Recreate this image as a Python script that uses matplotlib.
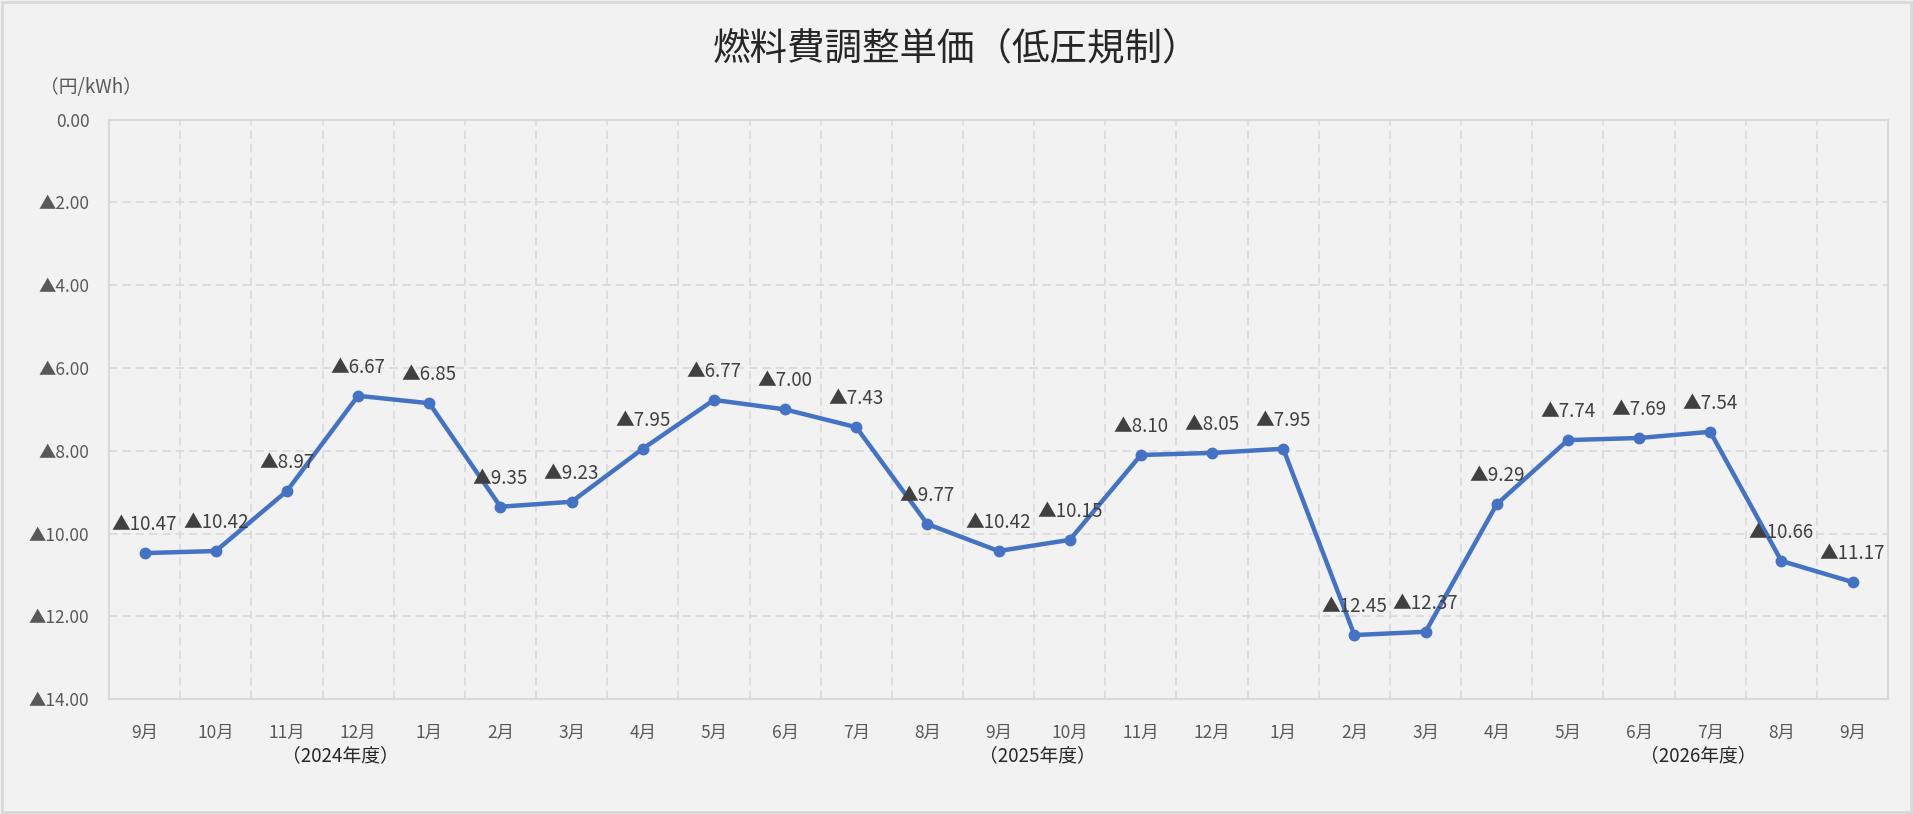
import matplotlib
matplotlib.use('Agg')
import matplotlib.pyplot as plt
from matplotlib.ticker import FuncFormatter, FixedLocator
from matplotlib.patches import Rectangle
import matplotlib.transforms as mtransforms

# Data (円/kWh, all values are negative -> shown with ▲)
months = ['9月', '10月', '11月', '12月', '1月', '2月', '3月', '4月', '5月', '6月',
          '7月', '8月', '9月', '10月', '11月', '12月', '1月', '2月', '3月', '4月',
          '5月', '6月', '7月', '8月', '9月']
values = [10.47, 10.42, 8.97, 6.67, 6.85, 9.35, 9.23, 7.95, 6.77, 7.00,
          7.43, 9.77, 10.42, 10.15, 8.10, 8.05, 7.95, 12.45, 12.37, 9.29,
          7.74, 7.69, 7.54, 10.66, 11.17]
fiscal_labels = ['（2024年度）', '（2025年度）', '（2026年度）']
fiscal_pos = [2.75, 12.55, 21.83]

plt.rcParams['font.family'] = ['Noto Sans CJK JP', 'DejaVu Sans']

BG = '#f2f2f2'
GRID = '#d9d9d9'
TXT = '#595959'
LINE = '#4472c4'

fig = plt.figure(figsize=(19.13, 8.14), dpi=100, facecolor=BG)
ax = fig.add_axes([0.057, 0.141, 0.930, 0.712], facecolor=BG)

x = list(range(len(months)))
y = [-v for v in values]
ax.plot(x, y, color=LINE, linewidth=3.2, marker='o', markersize=7.5, zorder=3)

# data labels above each point
for xi, v in zip(x, values):
    ax.annotate(f'▲{v:.2f}', (xi, -v), xytext=(0, 13), textcoords='offset points',
                ha='center', va='bottom', fontsize=13.5, color='#404040', zorder=4)

ax.set_xlim(-0.5, len(months) - 0.5)
ax.set_ylim(-14, 0)
ax.set_yticks([0, -2, -4, -6, -8, -10, -12, -14])
ax.yaxis.set_major_formatter(FuncFormatter(
    lambda val, pos: '0.00' if abs(val) < 1e-9 else f'▲{abs(val):.2f}'))
ax.set_xticks(x)
ax.set_xticklabels(months)
ax.xaxis.set_minor_locator(FixedLocator([i - 0.5 for i in range(len(months) + 1)]))

ax.tick_params(axis='both', which='major', length=0, labelsize=12.5, colors=TXT)
ax.tick_params(axis='x', which='major', pad=18)
ax.tick_params(axis='y', pad=14)
ax.tick_params(axis='x', which='minor', length=0)

ax.grid(axis='y', which='major', color=GRID, linestyle=(0, (5, 3)), linewidth=1.2)
ax.grid(axis='x', which='minor', color=GRID, linestyle=(0, (5, 3)), linewidth=1.2)
ax.grid(axis='x', which='major', visible=False)
for s in ax.spines.values():
    s.set_color(GRID)
    s.set_linewidth(1.5)

# fiscal year captions under the month labels
trans = mtransforms.blended_transform_factory(ax.transData, ax.transAxes)
for lbl, pos in zip(fiscal_labels, fiscal_pos):
    ax.text(pos, -0.098, lbl, transform=trans, ha='center', va='center',
            fontsize=13.5, color='#262626')

fig.text(0.5, 0.94, '燃料費調整単価（低圧規制）', ha='center', va='center',
         fontsize=27, color='#262626')
fig.text(0.021, 0.892, '（円/kWh）', ha='left', va='center', fontsize=13.5, color=TXT)

# outer chart border
fig.patches.append(Rectangle((0.001, 0.002), 0.998, 0.996, transform=fig.transFigure,
                             fill=False, edgecolor=GRID, linewidth=2))

fig.savefig('out.png', dpi=100, facecolor=BG)
